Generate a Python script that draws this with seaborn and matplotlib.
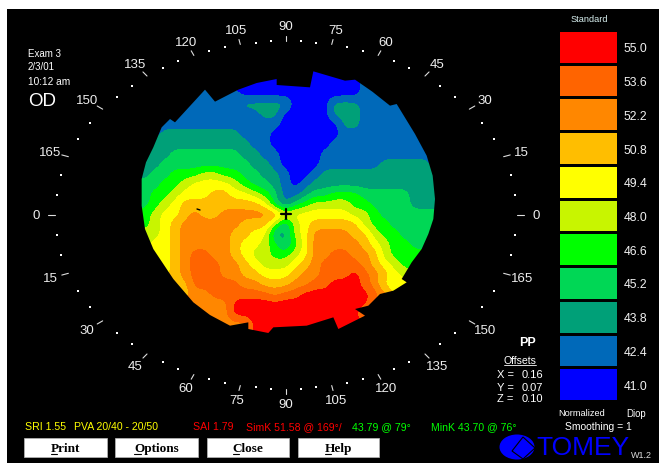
import numpy as np
import seaborn as sns
import matplotlib
matplotlib.use("Agg")
import matplotlib.pyplot as plt
from matplotlib.colors import ListedColormap, BoundaryNorm
from matplotlib.patches import Polygon, Rectangle, Ellipse

sns.set_style("white")
plt.rcParams['font.family'] = ['Liberation Sans', 'DejaVu Sans']

# Scale: dioptres, low to high
diopters = [41.0, 42.4, 43.8, 45.2, 46.6, 48.0, 49.4, 50.8, 52.2, 53.6, 55.0]
band_colors = ['#0000ff', '#0069b9', '#00a078', '#00d755', '#00ff00', '#c8f500',
               '#ffff00', '#ffbe00', '#ff8700', '#ff6400', '#ff0000']

# Map: band index per grid cell (A = 10 = 55.0 D)
band_rows = [
    "111111111111111110000000011111111",
    "111111111110000000000000111111111",
    "111111111110000000000000111111111",
    "111111111111000000000000111111111",
    "111111111111222220000222111111111",
    "111111111111112200000222111111111",
    "111111111111111100000022111111111",
    "111122222222111000000011111111111",
    "222222222222211000000111111111111",
    "222223333333221100001111111111111",
    "222233333333322100001111112222211",
    "222334445544332210012222222222222",
    "333344566665433210122222222222222",
    "333445666776654311233444333332222",
    "333456777777776313455554433332222",
    "444566787788888866666665543333333",
    "444567888888777525677777544333333",
    "555567888887766225688887754433333",
    "555667888887665424688888765443333",
    "666667899887655445688998875444433",
    "666667899988765556789999876544444",
    "66666789998877666788999A987655555",
    "777777799999887778899AAA986666666",
    "777777788999999899AAAAAAA98666666",
    "88888888888AAAAAAAAAAAAAA88888888",
    "88888888888AAAAAAAAAAAAA888888888",
    "8888888888888AAAAAAAAAAAAAAAAAAAA",
    "8888888888888AAAAAAAAAAAAAAAAAAAA",
    "8888888888888AAAAAAAAAAAAAAAAAAAA",
]
# Edge of the measured area, in the same map units as the grid
rim_x = [65, 65, 78, 100, 125, 150, 165, 210, 255, 285, 355, 410, 470, 470, 570, 580, 675, 705, 757,
         810, 830, 885, 920, 938, 945, 940, 925, 905, 875, 845, 860, 820, 780, 745, 705, 735, 655,
         640, 560, 460, 445, 385, 385, 330, 270, 220, 160, 100, 75]
rim_y = [440, 360, 310, 265, 205, 180, 190, 141, 92, 128, 92, 72, 60, 78, 85, 37, 65, 62, 98,
         140, 135, 225, 290, 350, 420, 480, 525, 570, 610, 660, 670, 695, 705, 740, 750, 770, 810,
         775, 800, 805, 822, 810, 790, 800, 768, 730, 660, 570, 510]

# Meridian scale
tick_angles = list(range(0, 360, 15))
tick_names = ['0', '15', '30', '45', '60', '75', '90', '105', '120', '135', '150', '165',
              '0', '15', '30', '45', '60', '75', '90', '105', '120', '135', '150', '165']

left_notes = ['Exam 3', '2/3/01', '10:12 am']
offset_names = ['X =', 'Y =', 'Z =']
offset_values = ['0.16', '0.07', '0.10']
button_names = ['Print', 'Options', 'Close', 'Help']

W, H = 659, 464
fig = plt.figure(figsize=(W / 100, H / 100), dpi=100, facecolor='white')


def px_axes(x0, y0, x1, y1, **kw):
    return fig.add_axes([x0 / W, 1 - y1 / H, (x1 - x0) / W, (y1 - y0) / H], **kw)


bg = px_axes(0, 0, W, H)
bg.set_xlim(0, W)
bg.set_ylim(H, 0)
bg.axis('off')
bg.add_patch(Rectangle((7, 10), W - 7, 454, fc='black', ec='none'))

# Colour map
ax = px_axes(120, 60, 450, 350)
ax.patch.set_alpha(0)
grid = np.array([[int(ch, 16) for ch in row] for row in band_rows], dtype=float)
z = 41.0 + 1.4 * grid
levels = [40.3] + [d + 0.7 for d in diopters]
im = ax.imshow(z, extent=(0, 990, 870, 0), aspect='auto', cmap=ListedColormap(band_colors),
               norm=BoundaryNorm(levels, len(band_colors), clip=True),
               interpolation='bicubic', interpolation_stage='data')
clip = Polygon(np.column_stack([rim_x, rim_y]), closed=True, transform=ax.transData, fc='none', ec='none')
ax.add_patch(clip)
im.set_clip_path(clip)
ax.set_xlim(0, 990)
ax.set_ylim(870, 0)
ax.axis('off')

# Meridian ring
cx, cy = 286, 216


def ring(theta, a, b):
    t = np.radians(theta)
    r = 1 / np.sqrt((np.cos(t) / a) ** 2 + (np.sin(t) / b) ** 2)
    return cx + r * np.cos(t), cy - r * np.sin(t)


for th in range(0, 360, 5):
    if th % 15:
        x, y = ring(th, 231, 174)
        bg.plot([x], [y], 's', ms=1.5, color='white', mew=0)
for th, name in zip(tick_angles, tick_names):
    x0, y0 = ring(th, 231, 174)
    x1, y1 = ring(th, 238, 179)
    bg.plot([x0, x1], [y0, y1], color='#dddddd', lw=0.8)
    x, y = ring(th, 250, 189)
    bg.text(x, y, name, color='#eeeeee', fontsize=9.5, ha='center', va='center')

# Centre mark
bg.set_zorder(0)
ax.set_zorder(1)
top = px_axes(0, 0, W, H)
top.set_xlim(0, W)
top.set_ylim(H, 0)
top.axis('off')
top.patch.set_alpha(0)
top.set_zorder(3)
top.plot([281, 291], [215, 215], color='black', lw=1.6)
top.plot([286, 286], [210, 220], color='black', lw=1.6)
top.plot([197, 200], [210, 211], color='black', lw=1)

# Scale bar
lg = px_axes(558, 31, 618, 402)
lg.set_zorder(2)
table = np.array(diopters[::-1]).reshape(-1, 1)
sns.heatmap(table, ax=lg, cmap=ListedColormap(band_colors), vmin=40.3, vmax=55.7, cbar=False,
            linewidths=1, linecolor='black', xticklabels=False,
            yticklabels=[f'{d:.1f}' for d in diopters[::-1]])
lg.yaxis.tick_right()
lg.tick_params(axis='y', length=0, pad=4, labelsize=8.8, labelcolor='#f2f2f2', labelrotation=0)

# Texts
for y, s, fs in zip([54, 67, 82], left_notes, [7, 7, 7.3]):
    top.text(28, y, s, color='white', fontsize=fs, va='center')
top.text(28, 102, 'OD', color='white', fontsize=13.5, va='center')
top.text(589, 20, 'Standard', color='#d8f0f0', fontsize=6.6, ha='center', va='center')
top.text(527, 343, 'PP', color='white', fontsize=9, fontweight='bold', ha='center', va='center')
top.text(520, 361, 'Offsets', color='white', fontsize=7.6, ha='center', va='center')
top.plot([504, 536], [366, 366], color='white', lw=0.6)
for y, n, v in zip([375, 388, 399], offset_names, offset_values):
    top.text(497, y, n, color='white', fontsize=8, va='center')
    top.text(522, y, v, color='white', fontsize=8, va='center')

for x, s, c in [(25, 'SRI 1.55', '#ffff00'), (74, 'PVA 20/40 - 20/50', '#ffff00'),
                (193, 'SAI 1.79', '#ff0000'), (246, 'SimK 51.58 @ 169°/', '#ff0000'),
                (352, '43.79 @ 79°', '#00ff00'), (431, 'MinK 43.70 @ 76°', '#00ff00')]:
    top.text(x, 427, s, color=c, fontsize=7.6, va='center')
top.text(582, 414, 'Normalized', color='white', fontsize=6.7, ha='center', va='center')
top.text(636, 414, 'Diop', color='white', fontsize=6.9, ha='center', va='center')
top.text(598, 427, 'Smoothing = 1', color='white', fontsize=7.5, ha='center', va='center')

for (x0, x1), name in zip([(24, 107), (115, 198), (207, 289), (298, 379)], button_names):
    top.add_patch(Rectangle((x0, 439), x1 - x0, 19, fc='white', ec='#bbbbbb', lw=0.5))
    t = top.text((x0 + x1) / 2, 449, name, color='black', fontsize=9.5, fontweight='bold',
                 family='Liberation Serif', ha='center', va='center')
    fig.canvas.draw()
    bb = t.get_window_extent().transformed(top.transData.inverted())
    top.plot([bb.x0, bb.x0 + 6.5], [455, 455], color='black', lw=0.8)

# Maker's mark
top.text(582.5, 448, 'TOMEY', color='#0000ff', fontsize=19, ha='center', va='center')
top.add_patch(Ellipse((517, 448), 35, 25, fc='#0000ff', ec='none'))
top.add_patch(Polygon([[523, 438], [535, 449], [523, 460], [512, 452]], closed=True, fc='#0000ff', ec='black', lw=0.8))
top.text(631, 455.5, 'W1.2', color='#dddddd', fontsize=6.5, va='center')

fig.savefig('out.png', dpi=100, facecolor='white')
